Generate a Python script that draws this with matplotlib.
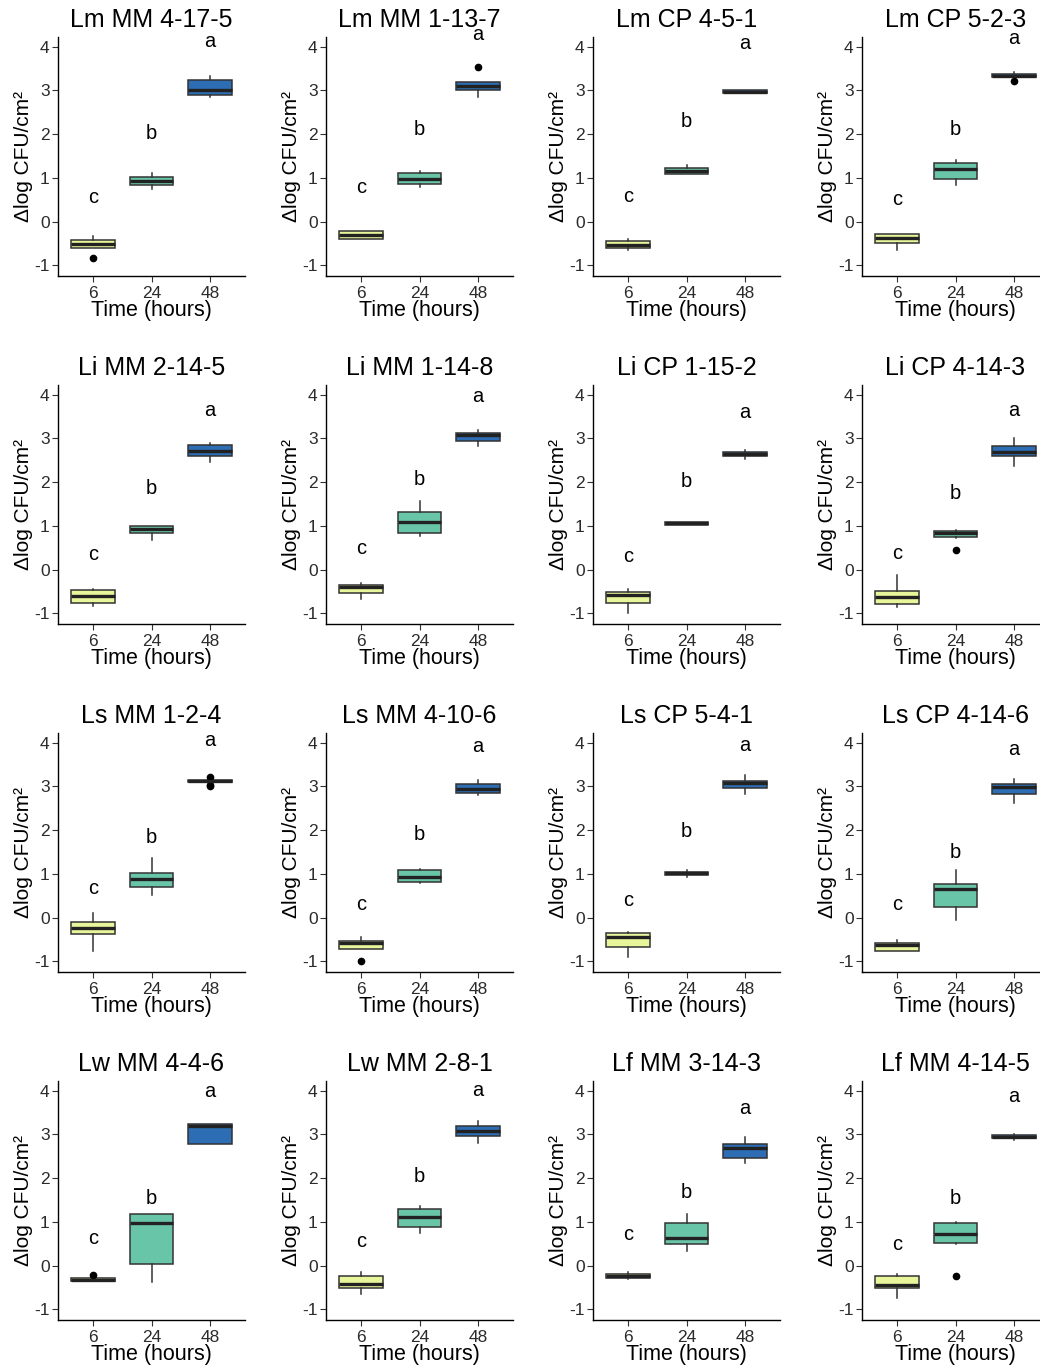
import matplotlib
matplotlib.use("Agg")
import matplotlib.pyplot as plt

plt.rcParams['font.family'] = ['Liberation Sans', 'DejaVu Sans']
plt.rcParams['axes.unicode_minus'] = False

# x categories, letter groups and box colours
times = ["6", "24", "48"]
letters = ["c", "b", "a"]
fills = ["#e8f59b", "#69c5a8", "#2c6db3"]

titles = [
    "Lm MM 4-17-5", "Lm MM 1-13-7", "Lm CP 4-5-1", "Lm CP 5-2-3",
    "Li MM 2-14-5", "Li MM 1-14-8", "Li CP 1-15-2", "Li CP 4-14-3",
    "Ls MM 1-2-4", "Ls MM 4-10-6", "Ls CP 5-4-1", "Ls CP 4-14-6",
    "Lw MM 4-4-6", "Lw MM 2-8-1", "Lf MM 3-14-3", "Lf MM 4-14-5",
]

# box statistics per panel, one value per time point (6, 24, 48 h)
whislo = [
    [-0.60, 0.74, 2.84], [-0.40, 0.80, 2.86], [-0.64, 1.085, 2.94], [-0.64, 0.84, 3.28],
    [-0.83, 0.69, 2.47], [-0.68, 0.77, 2.83], [-0.98, 1.02, 2.54], [-0.86, 0.72, 2.37],
    [-0.76, 0.52, 3.09], [-0.71, 0.79, 2.81], [-0.89, 0.94, 2.82], [-0.756, -0.06, 2.63],
    [-0.35, -0.37, 2.78], [-0.65, 0.75, 2.81], [-0.31, 0.33, 2.35], [-0.73, 0.49, 2.88],
]
q1 = [
    [-0.60, 0.84, 2.90], [-0.40, 0.86, 3.00], [-0.60, 1.085, 2.95], [-0.475, 0.97, 3.30],
    [-0.75, 0.85, 2.59], [-0.53, 0.83, 2.95], [-0.75, 1.02, 2.59], [-0.79, 0.755, 2.59],
    [-0.376, 0.71, 3.09], [-0.71, 0.81, 2.84], [-0.66, 0.98, 2.96], [-0.756, 0.244, 2.83],
    [-0.35, 0.037, 2.78], [-0.50, 0.875, 2.97], [-0.276, 0.486, 2.45], [-0.52, 0.51, 2.91],
]
med = [
    [-0.51, 0.93, 3.01], [-0.31, 0.98, 3.10], [-0.53, 1.16, 2.97], [-0.375, 1.20, 3.33],
    [-0.595, 0.93, 2.72], [-0.405, 1.08, 3.08], [-0.58, 1.06, 2.64], [-0.62, 0.83, 2.70],
    [-0.24, 0.88, 3.12], [-0.58, 0.94, 2.93], [-0.45, 1.02, 3.07], [-0.62, 0.656, 2.98],
    [-0.32, 0.98, 3.19], [-0.42, 1.12, 3.085], [-0.23, 0.64, 2.70], [-0.43, 0.72, 2.95],
]
q3 = [
    [-0.42, 1.03, 3.24], [-0.22, 1.11, 3.20], [-0.45, 1.22, 3.00], [-0.285, 1.34, 3.38],
    [-0.466, 1.00, 2.855], [-0.35, 1.31, 3.12], [-0.50, 1.10, 2.69], [-0.48, 0.885, 2.83],
    [-0.087, 1.017, 3.15], [-0.53, 1.09, 3.05], [-0.34, 1.055, 3.12], [-0.58, 0.78, 3.05],
    [-0.29, 1.18, 3.24], [-0.238, 1.29, 3.20], [-0.19, 0.966, 2.78], [-0.24, 0.966, 2.99],
]
whishi = [
    [-0.32, 1.11, 3.33], [-0.22, 1.16, 3.20], [-0.40, 1.30, 3.01], [-0.285, 1.40, 3.43],
    [-0.43, 1.00, 2.89], [-0.31, 1.56, 3.20], [-0.45, 1.10, 2.73], [-0.12, 0.91, 3.01],
    [0.10, 1.37, 3.15], [-0.44, 1.12, 3.15], [-0.32, 1.09, 3.25], [-0.50, 1.08, 3.16],
    [-0.29, 1.18, 3.24], [-0.15, 1.36, 3.31], [-0.14, 1.18, 2.95], [-0.18, 1.00, 3.00],
]
fliers = [
    [[-0.84], [], []], [[], [], [3.54]], [[], [], []], [[], [], [3.22]],
    [[], [], []], [[], [], []], [[], [], []], [[], [0.45], []],
    [[], [], [3.22, 3.04, 3.01]], [[-0.98], [], []], [[], [], []], [[], [], []],
    [[-0.21], [], []], [[], [], []], [[], [], []], [[], [-0.24], []],
]
letter_y = [
    [0.56, 2.02, 4.11], [0.79, 2.10, 4.27], [0.58, 2.29, 4.08], [0.51, 2.10, 4.19],
    [0.34, 1.86, 3.63], [0.49, 2.05, 3.96], [0.30, 2.02, 3.60], [0.36, 1.73, 3.64],
    [0.67, 1.83, 4.06], [0.31, 1.91, 3.91], [0.385, 1.97, 3.94], [0.30, 1.50, 3.85],
    [0.62, 1.54, 3.98], [0.55, 2.03, 4.00], [0.72, 1.67, 3.60], [0.49, 1.54, 3.86],
]

W, H = 1040, 1370
fig = plt.figure(figsize=(W / 100, H / 100), dpi=100)

col_left = [58, 326, 593, 862]
row_top = [37, 385, 733, 1081]
ax_w, ax_h = 187, 239

for i, title in enumerate(titles):
    r, c = divmod(i, 4)
    ax = fig.add_axes([col_left[c] / W, 1 - (row_top[r] + ax_h) / H, ax_w / W, ax_h / H])

    stats = []
    for j in range(3):
        stats.append(dict(med=med[i][j], q1=q1[i][j], q3=q3[i][j],
                          whislo=whislo[i][j], whishi=whishi[i][j],
                          fliers=fliers[i][j]))

    bp = ax.bxp(stats, positions=[1, 2, 3], widths=0.75, patch_artist=True,
                showcaps=False,
                boxprops=dict(edgecolor="#333333", linewidth=1.1),
                medianprops=dict(color="#222222", linewidth=2.4),
                whiskerprops=dict(color="#333333", linewidth=1.1),
                flierprops=dict(marker="o", markerfacecolor="black",
                                markeredgecolor="black", markersize=4.5))
    for patch, col in zip(bp["boxes"], fills):
        patch.set_facecolor(col)

    for j in range(3):
        ax.text(j + 1, letter_y[i][j], letters[j], ha="center", va="center",
                fontsize=14.5, color="black")

    ax.set_xlim(0.4, 3.6)
    ax.set_ylim(-1.24, 4.22)
    ax.set_yticks([-1, 0, 1, 2, 3, 4])
    ax.set_xticks([1, 2, 3])
    ax.set_xticklabels(times)

    for side in ["top", "right"]:
        ax.spines[side].set_visible(False)
    for side in ["left", "bottom"]:
        ax.spines[side].set_color("black")
        ax.spines[side].set_linewidth(1.0)

    ax.tick_params(axis="both", length=4, width=0.8, color="#333333",
                   labelsize=12.5, labelcolor="#2b2b2b")
    ax.tick_params(axis="x", pad=3.5)
    ax.tick_params(axis="y", pad=2)

    ax.set_title(title, fontsize=18, pad=7)
    ax.set_xlabel("Time (hours)", fontsize=15.5, labelpad=-1)
    ax.set_ylabel("Δlog CFU/cm²", fontsize=15, labelpad=1)

fig.savefig("out.png", dpi=100)
